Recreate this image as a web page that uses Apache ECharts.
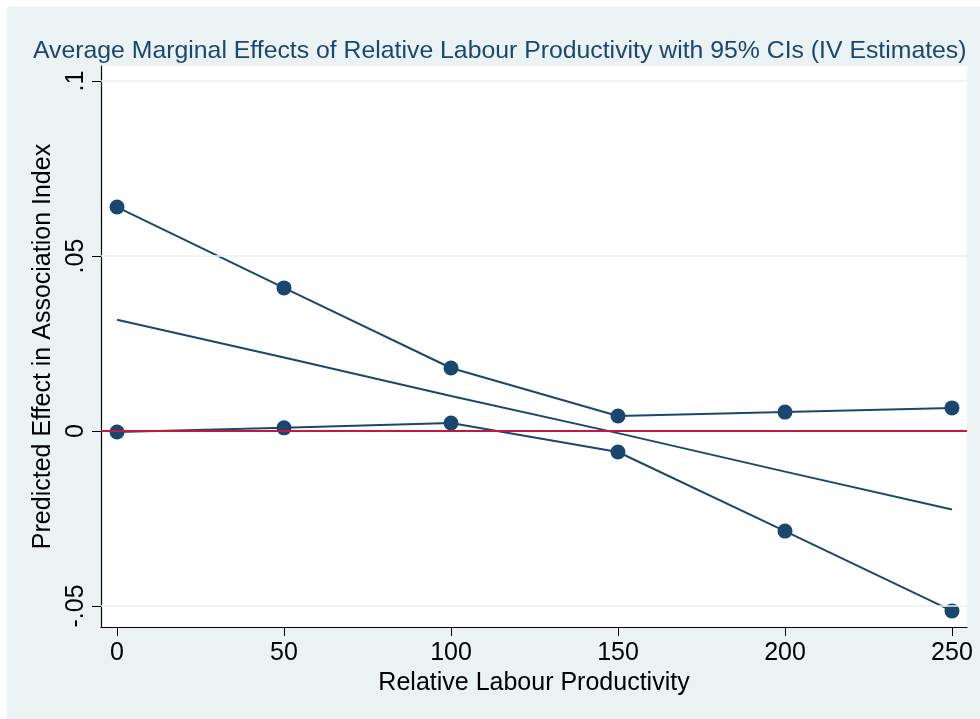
<!DOCTYPE html>
<html>
<head>
<meta charset="utf-8">
<script src="https://cdn.jsdelivr.net/npm/echarts@6/dist/echarts.min.js"></script>
<style>
  html, body { margin: 0; padding: 0; background: #fff; }
  #chart { width: 980px; height: 719px; }
</style>
</head>
<body>
<div id="chart"></div>
<script>
  // data
  var xVals = [0, 50, 100, 150, 200, 250];
  var upperCI = [0.0640, 0.0409, 0.0180, 0.0043, 0.0054, 0.0066];
  var lowerCI = [-0.0003, 0.0009, 0.0023, -0.0060, -0.0286, -0.0514];
  var estimate = [0.0318, 0.0210, 0.0100, -0.0006, -0.0116, -0.0224];
  var xTicks = [0, 50, 100, 150, 200, 250];
  var yTicks = [-0.05, 0, 0.05, 0.1];
  var gridVals = [-0.05, 0.05, 0.1];

  function pairs(ys) {
    return xVals.map(function (x, i) { return [x, ys[i]]; });
  }
  function yFmt(v) {
    var s = String(Math.round(v * 100) / 100);
    return s.replace(/^0\./, '.').replace(/^-0\./, '-.');
  }

  var navy = '#1a476f';
  var font = 'Liberation Sans, Arial, sans-serif';

  var chart = echarts.init(document.getElementById('chart'));
  chart.setOption({
    backgroundColor: '#fff',
    animation: false,
    graphic: [{
      type: 'rect', left: 7, top: 7, z: -10,
      shape: { width: 973, height: 712 },
      style: { fill: '#eaf2f3' }
    }],
    title: {
      text: 'Average Marginal Effects of Relative Labour Productivity with 95% CIs (IV Estimates)',
      left: 28, top: 34,
      textStyle: { color: navy, fontFamily: font, fontSize: 24.8, fontWeight: 'normal' }
    },
    grid: {
      left: 101, top: 66, right: 13, bottom: 92,
      show: true, backgroundColor: '#fff', borderWidth: 0
    },
    xAxis: {
      type: 'value', min: -4.8, max: 254.5,
      name: 'Relative Labour Productivity',
      nameLocation: 'middle', nameGap: 43,
      nameTextStyle: { color: '#000', fontFamily: font, fontSize: 25 },
      axisLine: { show: true, onZero: false, lineStyle: { color: '#000', width: 1.2 } },
      axisTick: { show: true, length: 9, customValues: xTicks, lineStyle: { color: '#000' } },
      axisLabel: { customValues: xTicks, color: '#000', fontFamily: font, fontSize: 25, margin: 14 },
      splitLine: { show: false }
    },
    yAxis: {
      type: 'value', min: -0.056, max: 0.1043,
      name: 'Predicted Effect in Association Index',
      nameLocation: 'middle', nameGap: 40, nameRotate: 90,
      nameTextStyle: { color: '#000', fontFamily: font, fontSize: 25 },
      axisLine: { show: true, onZero: false, lineStyle: { color: '#000', width: 1.2 } },
      axisTick: { show: true, length: 9, customValues: yTicks, lineStyle: { color: '#000' } },
      axisLabel: {
        customValues: yTicks, rotate: 90, color: '#000', fontFamily: font, fontSize: 25, margin: 12,
        formatter: yFmt
      },
      splitLine: { show: false }
    },
    series: [
      {
        type: 'line', data: [], silent: true, z: 1,
        markLine: {
          silent: true, symbol: 'none', label: { show: false },
          lineStyle: { color: '#eaf2f3', type: 'solid', width: 1.5 },
          data: gridVals.map(function (v) { return { yAxis: v }; })
        }
      },
      {
        type: 'line', data: [], silent: true, z: 2,
        markLine: {
          silent: true, symbol: 'none', label: { show: false },
          lineStyle: { color: '#c4173d', type: 'solid', width: 1.8 },
          data: [{ yAxis: 0 }]
        }
      },
      {
        name: 'upper', type: 'line', data: pairs(upperCI), z: 3,
        symbol: 'circle', symbolSize: 15,
        itemStyle: { color: navy }, lineStyle: { color: navy, width: 2 }
      },
      {
        name: 'lower', type: 'line', data: pairs(lowerCI), z: 3,
        symbol: 'circle', symbolSize: 15,
        itemStyle: { color: navy }, lineStyle: { color: navy, width: 2 }
      },
      {
        name: 'estimate', type: 'line', data: pairs(estimate), z: 3,
        symbol: 'none', lineStyle: { color: navy, width: 2 }
      }
    ]
  });
</script>
</body>
</html>
